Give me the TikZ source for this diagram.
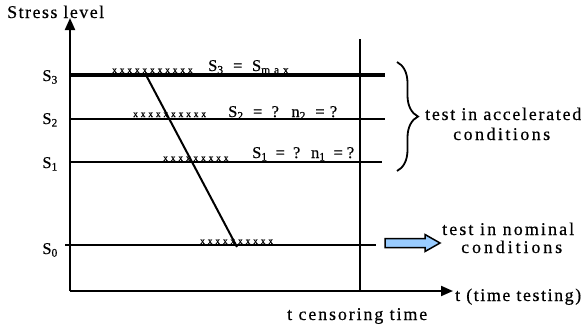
\documentclass[tikz,border=0pt]{standalone}
\usepackage{fontspec}
\setmainfont{Liberation Serif}[FakeBold=0.5]
\newfontfamily\xfont{Liberation Serif}[LetterSpace=30,FakeBold=0.5]
\usetikzlibrary{arrows.meta,decorations.pathreplacing}
\definecolor{arrowblue}{HTML}{99CCFF}
\newlength\wzero
\newlength\wfifty
% \fitto{target width in bp}{text}: letter-spaces the text to the given width
\newcommand\fitto[2]{%
  \settowidth\wzero{#2}%
  \settowidth\wfifty{\addfontfeature{LetterSpace=50}#2}%
  \pgfmathsetmacro\lsval{max(0,50*(#1*1.00375-\wzero)/(\wfifty-\wzero))}%
  {\addfontfeature{LetterSpace=\lsval}#2}}
\tikzset{
  lbl/.style={font=\fontsize{18}{20}\selectfont, inner sep=0pt},
  slbl/.style={font=\fontsize{16.5}{18}\selectfont, inner sep=0pt},
  xrow/.style={font=\xfont\fontsize{9.5}{10}\selectfont, inner sep=0pt, anchor=base west},
  axisline/.style={line width=2bp, -{Triangle[length=12bp,width=10bp]}},
  levelline/.style={line width=2bp},
  maxline/.style={line width=3.5bp},
}
\begin{document}
\begin{tikzpicture}[x=1bp,y=-1bp]
\useasboundingbox (0,0) rectangle (581,331);
% coordinates
\coordinate (O) at (70,291);
\coordinate (Ytop) at (70,18);
\coordinate (Xend) at (453,291);
\coordinate (S3a) at (70,75);   \coordinate (S3b) at (385,75);
\coordinate (S2a) at (70,118.5);\coordinate (S2b) at (385,118.5);
\coordinate (S1a) at (70,162);  \coordinate (S1b) at (382,162);
\coordinate (S0a) at (65,245);  \coordinate (S0b) at (376,245);
\coordinate (Ca) at (360,39);   \coordinate (Cb) at (360,291);
\coordinate (Da) at (146,75);   \coordinate (Db) at (237,247);
\coordinate (Ba) at (397,62);   \coordinate (Bb) at (397,171);
% axes
\draw[axisline] (O) -- (Ytop);
\draw[axisline] (O) -- (Xend);
% levels
\draw[maxline] (S3a) -- (S3b);
\draw[levelline] (S2a) -- (S2b);
\draw[levelline] (S1a) -- (S1b);
\draw[levelline] (S0a) -- (S0b);
\draw[levelline] (Ca) -- (Cb);
\draw[levelline] (Da) -- (Db);
% axis labels
\node[lbl, anchor=base west] (ylab) at (7,18) {\fitto{97}{Stress level}};
\node[slbl, anchor=base east] (l3) at (58,81) {S\textsubscript{3}};
\node[slbl, anchor=base east] (l2) at (58,124) {S\textsubscript{2}};
\node[slbl, anchor=base east] (l1) at (58,168) {S\textsubscript{1}};
\node[slbl, anchor=base east] (l0) at (58,254) {S\textsubscript{0}};
% x rows
\node[xrow] (x3) at (112,73) {xxxxxxxxxxx};
\node[xrow] (x2) at (133,117) {xxxxxxxxxx};
\node[xrow] (x1) at (163,161) {xxxxxxxxx};
\node[xrow] (x0) at (200,244) {xxxxxxxxxx};
% level texts
\node[slbl, anchor=base west] (t3) at (208,71) {\fitto{81}{S\textsubscript{3} = S\textsubscript{max}}};
\node[slbl, anchor=base west] (t2) at (228,117) {\fitto{109}{S\textsubscript{2} = ? n\textsubscript{2} =?}};
\node[slbl, anchor=base west] (t1) at (252,158) {\fitto{102}{S\textsubscript{1} = ? n\textsubscript{1} =?}};
% brace
\draw[line width=1.8bp, decorate, decoration={brace, amplitude=21bp}] (Ba) -- (Bb);
\node[lbl, anchor=base west] (acc1) at (425,120) {\fitto{156}{test in accelerated}};
\node[lbl, anchor=base west] (acc2) at (453,140) {\fitto{97}{conditions}};
% blue arrow
\draw[line width=1.5bp, fill=arrowblue, line join=miter]
  (385,238.5) -- (425,238.5) -- (425,234.5) -- (440,243) -- (425,251.5) -- (425,247.5) -- (385,247.5) -- cycle;
\node[lbl, anchor=base west] (nom1) at (442,235) {\fitto{132}{test in nominal}};
\node[lbl, anchor=base west] (nom2) at (461,253) {\fitto{101}{conditions}};
% time labels
\node[lbl, anchor=base west] (tlab) at (455,301) {\fitto{126}{t (time testing)}};
\node[lbl, anchor=base west] (clab) at (287,320) {\fitto{140}{t censoring time}};
\end{tikzpicture}
\end{document}
